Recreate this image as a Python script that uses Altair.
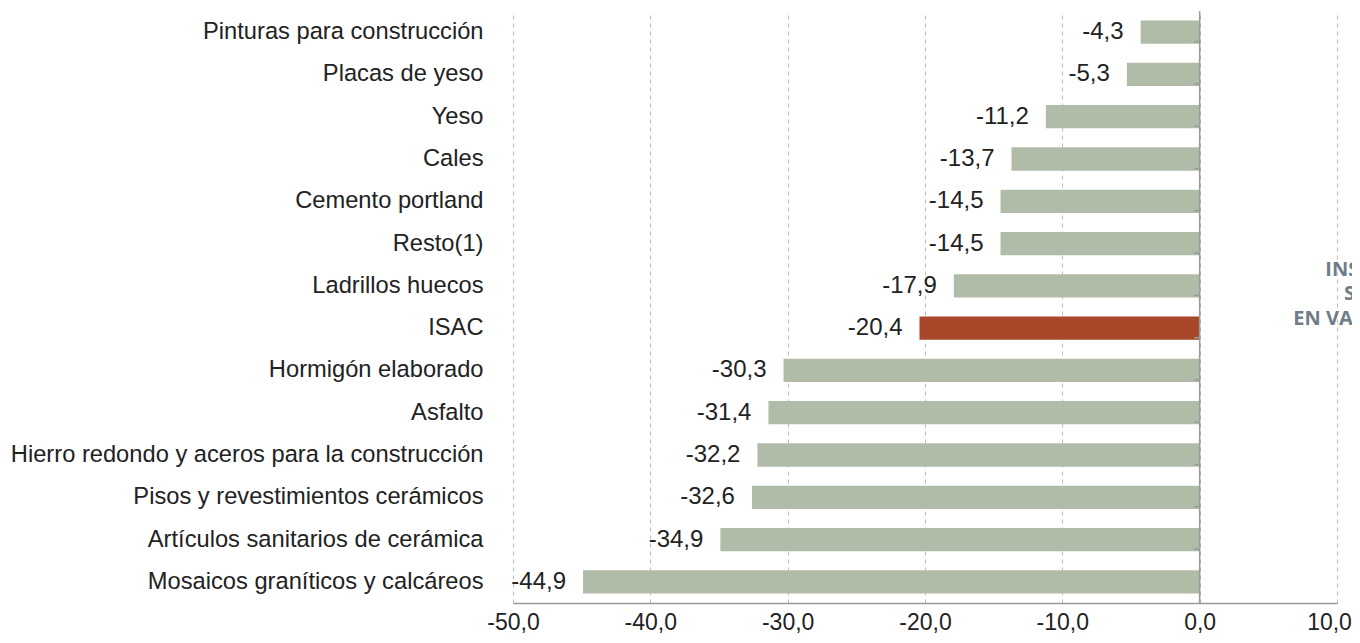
import altair as alt
import pandas as pd

categories = [
    "Pinturas para construcción",
    "Placas de yeso",
    "Yeso",
    "Cales",
    "Cemento portland",
    "Resto(1)",
    "Ladrillos huecos",
    "ISAC",
    "Hormigón elaborado",
    "Asfalto",
    "Hierro redondo y aceros para la construcción",
    "Pisos y revestimientos cerámicos",
    "Artículos sanitarios de cerámica",
    "Mosaicos graníticos y calcáreos",
]
values = [-4.3, -5.3, -11.2, -13.7, -14.5, -14.5, -17.9, -20.4,
          -30.3, -31.4, -32.2, -32.6, -34.9, -44.9]
highlight = "ISAC"
x_ticks = [-50, -40, -30, -20, -10, 0, 10]
side_text = ["INSUMOS", "SELEC", "EN VALORES (%)"]

df = pd.DataFrame({"cat": categories, "val": values})
df_side = pd.DataFrame({"k": [0]})

FONT = "Liberation Sans"
fmt = "(%s < 0 ? '-' : '') + replace(format(abs(%s), '.1f'), '.', ',')"

y_enc = alt.Y(
    "cat:N",
    sort=categories,
    scale=alt.Scale(paddingInner=0.45, paddingOuter=0.225),
    axis=alt.Axis(title=None, domain=False, ticks=False, labelFont=FONT,
                  labelFontSize=23.7, labelColor="#222", labelPadding=30,
                  labelLimit=0),
)
x_enc = alt.X(
    "val:Q",
    scale=alt.Scale(domain=[-50, 10], nice=False, zero=False),
    axis=alt.Axis(title=None, values=x_ticks, grid=True, gridDash=[4, 4],
                  gridColor="#bdbdbd", ticks=False, domainColor="#9a9a9a",
                  domainWidth=1.5, labelFont=FONT, labelFontSize=23,
                  labelColor="#222", labelPadding=8, labelFlush=False,
                  labelOffset={"condition": {"test": "datum.value == 10",
                                             "value": -8}, "value": 0},
                  labelExpr=fmt % ("datum.value", "datum.value")),
)

base = alt.Chart(df)

bars = base.mark_bar().encode(
    x=x_enc,
    y=y_enc,
    color=alt.condition(alt.datum.cat == highlight, alt.value("#a9472a"),
                        alt.value("#b0bca8")),
)

labels = base.transform_calculate(
    lab=fmt % ("datum.val", "datum.val")
).mark_text(align="right", baseline="middle", dx=-17, font=FONT,
            fontSize=24, color="#222").encode(
    x="val:Q", y=alt.Y("cat:N", sort=categories), text="lab:N"
)

zero_rule = alt.Chart(df_side).mark_rule(color="#9a9a9a", strokeWidth=1.5).encode(
    x=alt.datum(0)
)

zero_ticks = base.mark_rule(color="#9a9a9a", strokeWidth=1.5).encode(
    y=alt.Y("cat:N", sort=categories),
    yOffset=alt.value(-21.14),
    x=alt.datum(0),
    x2=alt.datum(-0.4),
)

side = alt.Chart(df_side).mark_text(
    text=side_text, align="center", baseline="middle", font="Open Sans",
    fontWeight="bold", fontSize=20, lineHeight=24.5, color="#6f7d88", dy=-16
).encode(
    x=alt.datum(12.6),
    y=alt.YDatum("Ladrillos huecos", type="nominal"),
)

chart = alt.layer(bars, labels, zero_rule, zero_ticks, side).properties(
    width=824,
    height=592,
    autosize=alt.AutoSizeParams(type="none"),
    padding={"left": 505, "top": 3, "right": 15, "bottom": 32},
).configure_view(stroke=None)

chart.save("out.html", embed_options={"renderer": "svg", "actions": False})
